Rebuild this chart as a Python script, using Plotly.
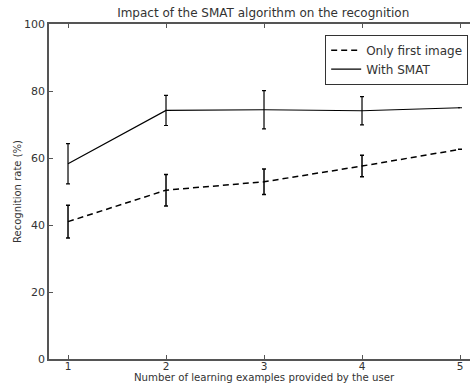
import plotly.graph_objects as go

x_vals = [1, 2, 3, 4, 5]
only_first = [41.0, 50.4, 52.9, 57.6, 62.6]
only_first_err = [4.9, 4.7, 3.8, 3.2, 0]
with_smat = [58.3, 74.2, 74.4, 74.1, 75.0]
with_smat_err = [6.0, 4.5, 5.7, 4.2, 0]

fig = go.Figure()
fig.add_trace(go.Scatter(
    x=x_vals, y=only_first, mode="lines", name="Only first image",
    line=dict(color="black", width=1.5, dash="6px,4px"),
    error_y=dict(type="data", array=only_first_err, color="black", thickness=1.5, width=2),
))
fig.add_trace(go.Scatter(
    x=x_vals, y=with_smat, mode="lines", name="With SMAT",
    line=dict(color="black", width=1.2),
    error_y=dict(type="data", array=with_smat_err, color="black", thickness=1.2, width=2),
))

font_family = "DejaVu Sans"
fig.update_layout(
    width=470, height=385,
    margin=dict(l=49, r=0, t=24, b=26),
    plot_bgcolor="white", paper_bgcolor="white",
    font=dict(family=font_family, color="#333333", size=11),
    title=dict(text="Impact of the SMAT algorithm on the recognition",
               x=0.56, xanchor="center", y=0.978, yanchor="top",
               font=dict(size=12, color="#333333")),
    showlegend=True,
    legend=dict(x=0.656, y=0.968, xanchor="left", yanchor="top",
                bordercolor="#333333", borderwidth=1, bgcolor="white",
                font=dict(size=12, color="#333333"), tracegroupgap=0),
    xaxis=dict(range=[0.806, 5.102], tickvals=x_vals, ticks="inside", ticklen=4,
               tickcolor="#555", showgrid=False, zeroline=False, showline=True,
               linecolor="#555", linewidth=1.5, mirror="ticks",
               tickfont=dict(size=10.5), ticklabelstandoff=-3),
    yaxis=dict(range=[0, 100], tickvals=[0, 20, 40, 60, 80, 100], ticks="inside", ticklen=4,
               tickcolor="#555", showgrid=False, zeroline=False, showline=True,
               linecolor="#555", linewidth=1.5, mirror=False,
               tickfont=dict(size=11),
               title=dict(text="Recognition rate (%)", font=dict(size=10), standoff=1)),
    annotations=[dict(text="Number of learning examples provided by the user",
                      xref="paper", yref="paper", x=0.512, y=-0.0776,
                      xanchor="center", yanchor="bottom", showarrow=False,
                      font=dict(size=10.2, color="#333333"))],
)
fig.write_html("out.html")
